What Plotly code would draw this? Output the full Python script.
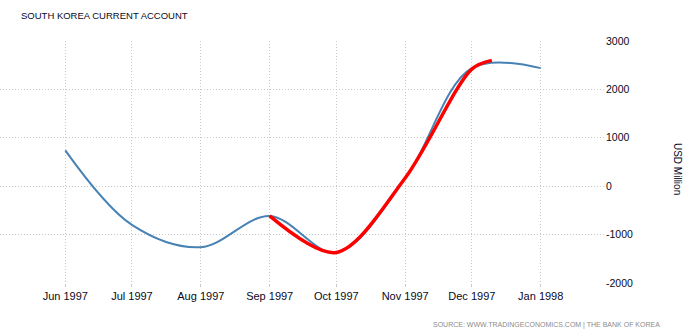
import plotly.graph_objects as go

# Data (USD Million)
blue_dates = ["1997-06-01", "1997-07-01", "1997-08-01", "1997-09-01",
              "1997-10-01", "1997-11-01", "1997-12-01", "1998-01-01"]
blue_values = [740, -800, -1260, -615, -1370, 160, 2440, 2440]

red_dates = ["1997-09-01", "1997-10-01", "1997-11-01", "1997-12-01", "1997-12-10"]
red_values = [-615, -1370, 170, 2420, 2600]

x_tick_vals = ["1997-06-01", "1997-07-01", "1997-08-01", "1997-09-01",
               "1997-10-01", "1997-11-01", "1997-12-01", "1998-01-01"]
x_tick_text = ["Jun 1997", "Jul 1997", "Aug 1997", "Sep 1997",
               "Oct 1997", "Nov 1997", "Dec 1997", "Jan 1998"]
y_tick_vals = [-2000, -1000, 0, 1000, 2000, 3000]
y_tick_text = ["-2000", "-1000", "0", "1000", "2000", "3000"]

title_text = "SOUTH KOREA CURRENT ACCOUNT"
axis_title = "USD Million"
source_text = "SOURCE: WWW.TRADINGECONOMICS.COM | THE BANK OF KOREA"

fig = go.Figure()
fig.add_trace(go.Scatter(
    x=blue_dates, y=blue_values, mode="lines",
    line=dict(color="#4682B4", width=2, shape="spline", smoothing=1.0),
    hoverinfo="skip", showlegend=False))
fig.add_trace(go.Scatter(
    x=red_dates, y=red_values, mode="lines",
    line=dict(color="#FF0000", width=3.5, shape="spline", smoothing=0.9),
    hoverinfo="skip", showlegend=False))

grid = dict(showgrid=True, gridcolor="#c8c8c8", gridwidth=1, griddash="1px,2px")

fig.update_layout(
    width=684, height=335,
    margin=dict(l=0, r=79, t=41, b=52),
    paper_bgcolor="white", plot_bgcolor="white",
    font=dict(family="Liberation Sans, Arial, sans-serif", color="#000000"),
    title=dict(text=title_text, x=21 / 684, xanchor="left", xref="paper" if False else "container",
               y=1 - 16 / 335, yanchor="middle", yref="container",
               font=dict(size=9.5, color="#0a0a1e")),
    xaxis=dict(
        range=["1997-05-02 14:38", "1998-01-29 22:34"],
        tickvals=x_tick_vals, ticktext=x_tick_text,
        tickfont=dict(size=11, color="#0a0a1e"),
        ticks="outside", ticklen=3, tickcolor="#c8c8c8",
        zeroline=False, showline=False, **grid),
    yaxis=dict(
        side="right", range=[-2000, 3000],
        tickvals=y_tick_vals, ticktext=y_tick_text,
        tickfont=dict(size=10.5, color="#0a0a1e"),
        zeroline=False, showline=False, **grid),
    annotations=[
        dict(text=axis_title, xref="paper", yref="paper",
             x=1, y=(283.3 - 169) / 242.6, xanchor="center", yanchor="middle",
             xshift=677 - 605, textangle=90, showarrow=False,
             font=dict(size=10, color="#0a0a1e")),
        dict(text=source_text, xref="paper", yref="paper",
             x=1, y=0, xanchor="right", yanchor="middle",
             xshift=662 - 605, yshift=-(325 - 283.3), showarrow=False,
             font=dict(size=7, color="#8c8c8c")),
    ],
)

fig.write_html("out.html")
